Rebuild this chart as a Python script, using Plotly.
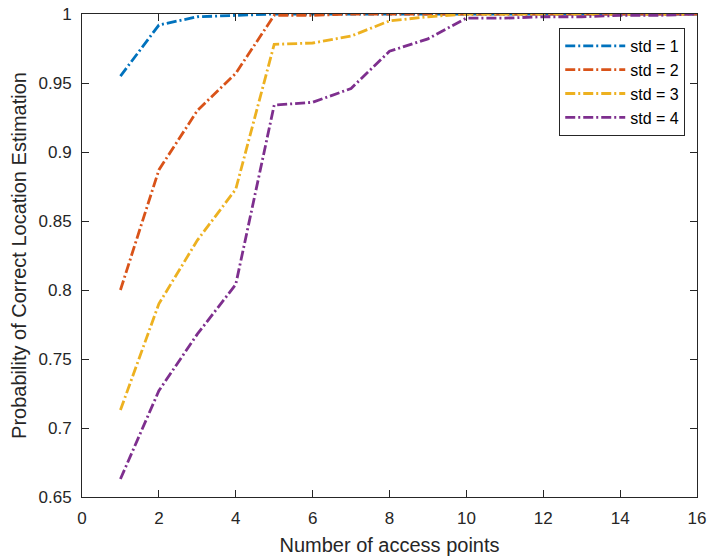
import plotly.graph_objects as go

x = list(range(1, 17))
std1 = [0.955, 0.992, 0.998, 0.999, 1.0, 1.0, 1.0, 1.0, 1.0, 1.0, 1.0, 1.0, 1.0, 1.0, 1.0, 1.0]
std2 = [0.800, 0.887, 0.930, 0.957, 0.999, 0.999, 1.0, 1.0, 1.0, 1.0, 1.0, 1.0, 1.0, 1.0, 1.0, 1.0]
std3 = [0.713, 0.790, 0.836, 0.873, 0.978, 0.979, 0.984, 0.995, 0.998, 1.0, 1.0, 1.0, 1.0, 1.0, 1.0, 1.0]
std4 = [0.663, 0.727, 0.768, 0.804, 0.934, 0.936, 0.946, 0.973, 0.982, 0.997, 0.997, 0.998, 0.998, 0.999, 0.999, 1.0]
names = ["std = 1", "std = 2", "std = 3", "std = 4"]
colors = ["#0072BD", "#D95319", "#EDB120", "#7E2F8E"]

fig = go.Figure()
for ys, n, c in zip([std1, std2, std3, std4], names, colors):
    fig.add_trace(go.Scatter(x=x, y=ys, name=n, mode="lines",
                             line=dict(color=c, width=2.8, dash="10px,3px,2px,3px")))

axis_common = dict(showline=True, linecolor="#262626", linewidth=1, mirror="ticks",
                   ticks="inside", ticklen=7, tickcolor="#262626", showgrid=False,
                   zeroline=False, automargin=False, tickfont=dict(size=17, color="#262626"))
fig.update_xaxes(range=[0, 16], tickvals=list(range(0, 17, 2)), ticklabelstandoff=6,
                 title=dict(text="Number of access points", font=dict(size=20, color="#262626"), standoff=10),
                 **axis_common)
fig.update_yaxes(range=[0.65, 1.0], tickvals=[0.65, 0.7, 0.75, 0.8, 0.85, 0.9, 0.95, 1.0],
                 ticktext=["0.65", "0.7", "0.75", "0.8", "0.85", "0.9", "0.95", "1"],
                 ticklabelstandoff=6,
                 title=dict(text="Probability of Correct Location Estimation", font=dict(size=20, color="#262626"), standoff=6),
                 **axis_common)
fig.update_layout(width=711, height=556, margin=dict(l=82, r=14, t=14, b=59),
                  plot_bgcolor="white", paper_bgcolor="white",
                  font=dict(family="Liberation Sans, Arial, sans-serif", size=17, color="#262626"),
                  legend=dict(x=0.776, y=0.971, xanchor="left", yanchor="top",
                              bordercolor="#262626", borderwidth=1, bgcolor="white",
                              font=dict(size=16, color="#000000"), tracegroupgap=0,
                              itemwidth=60))
fig.write_html("out.html", config={"displayModeBar": False},
               post_script="document.body.style.margin='0';")
